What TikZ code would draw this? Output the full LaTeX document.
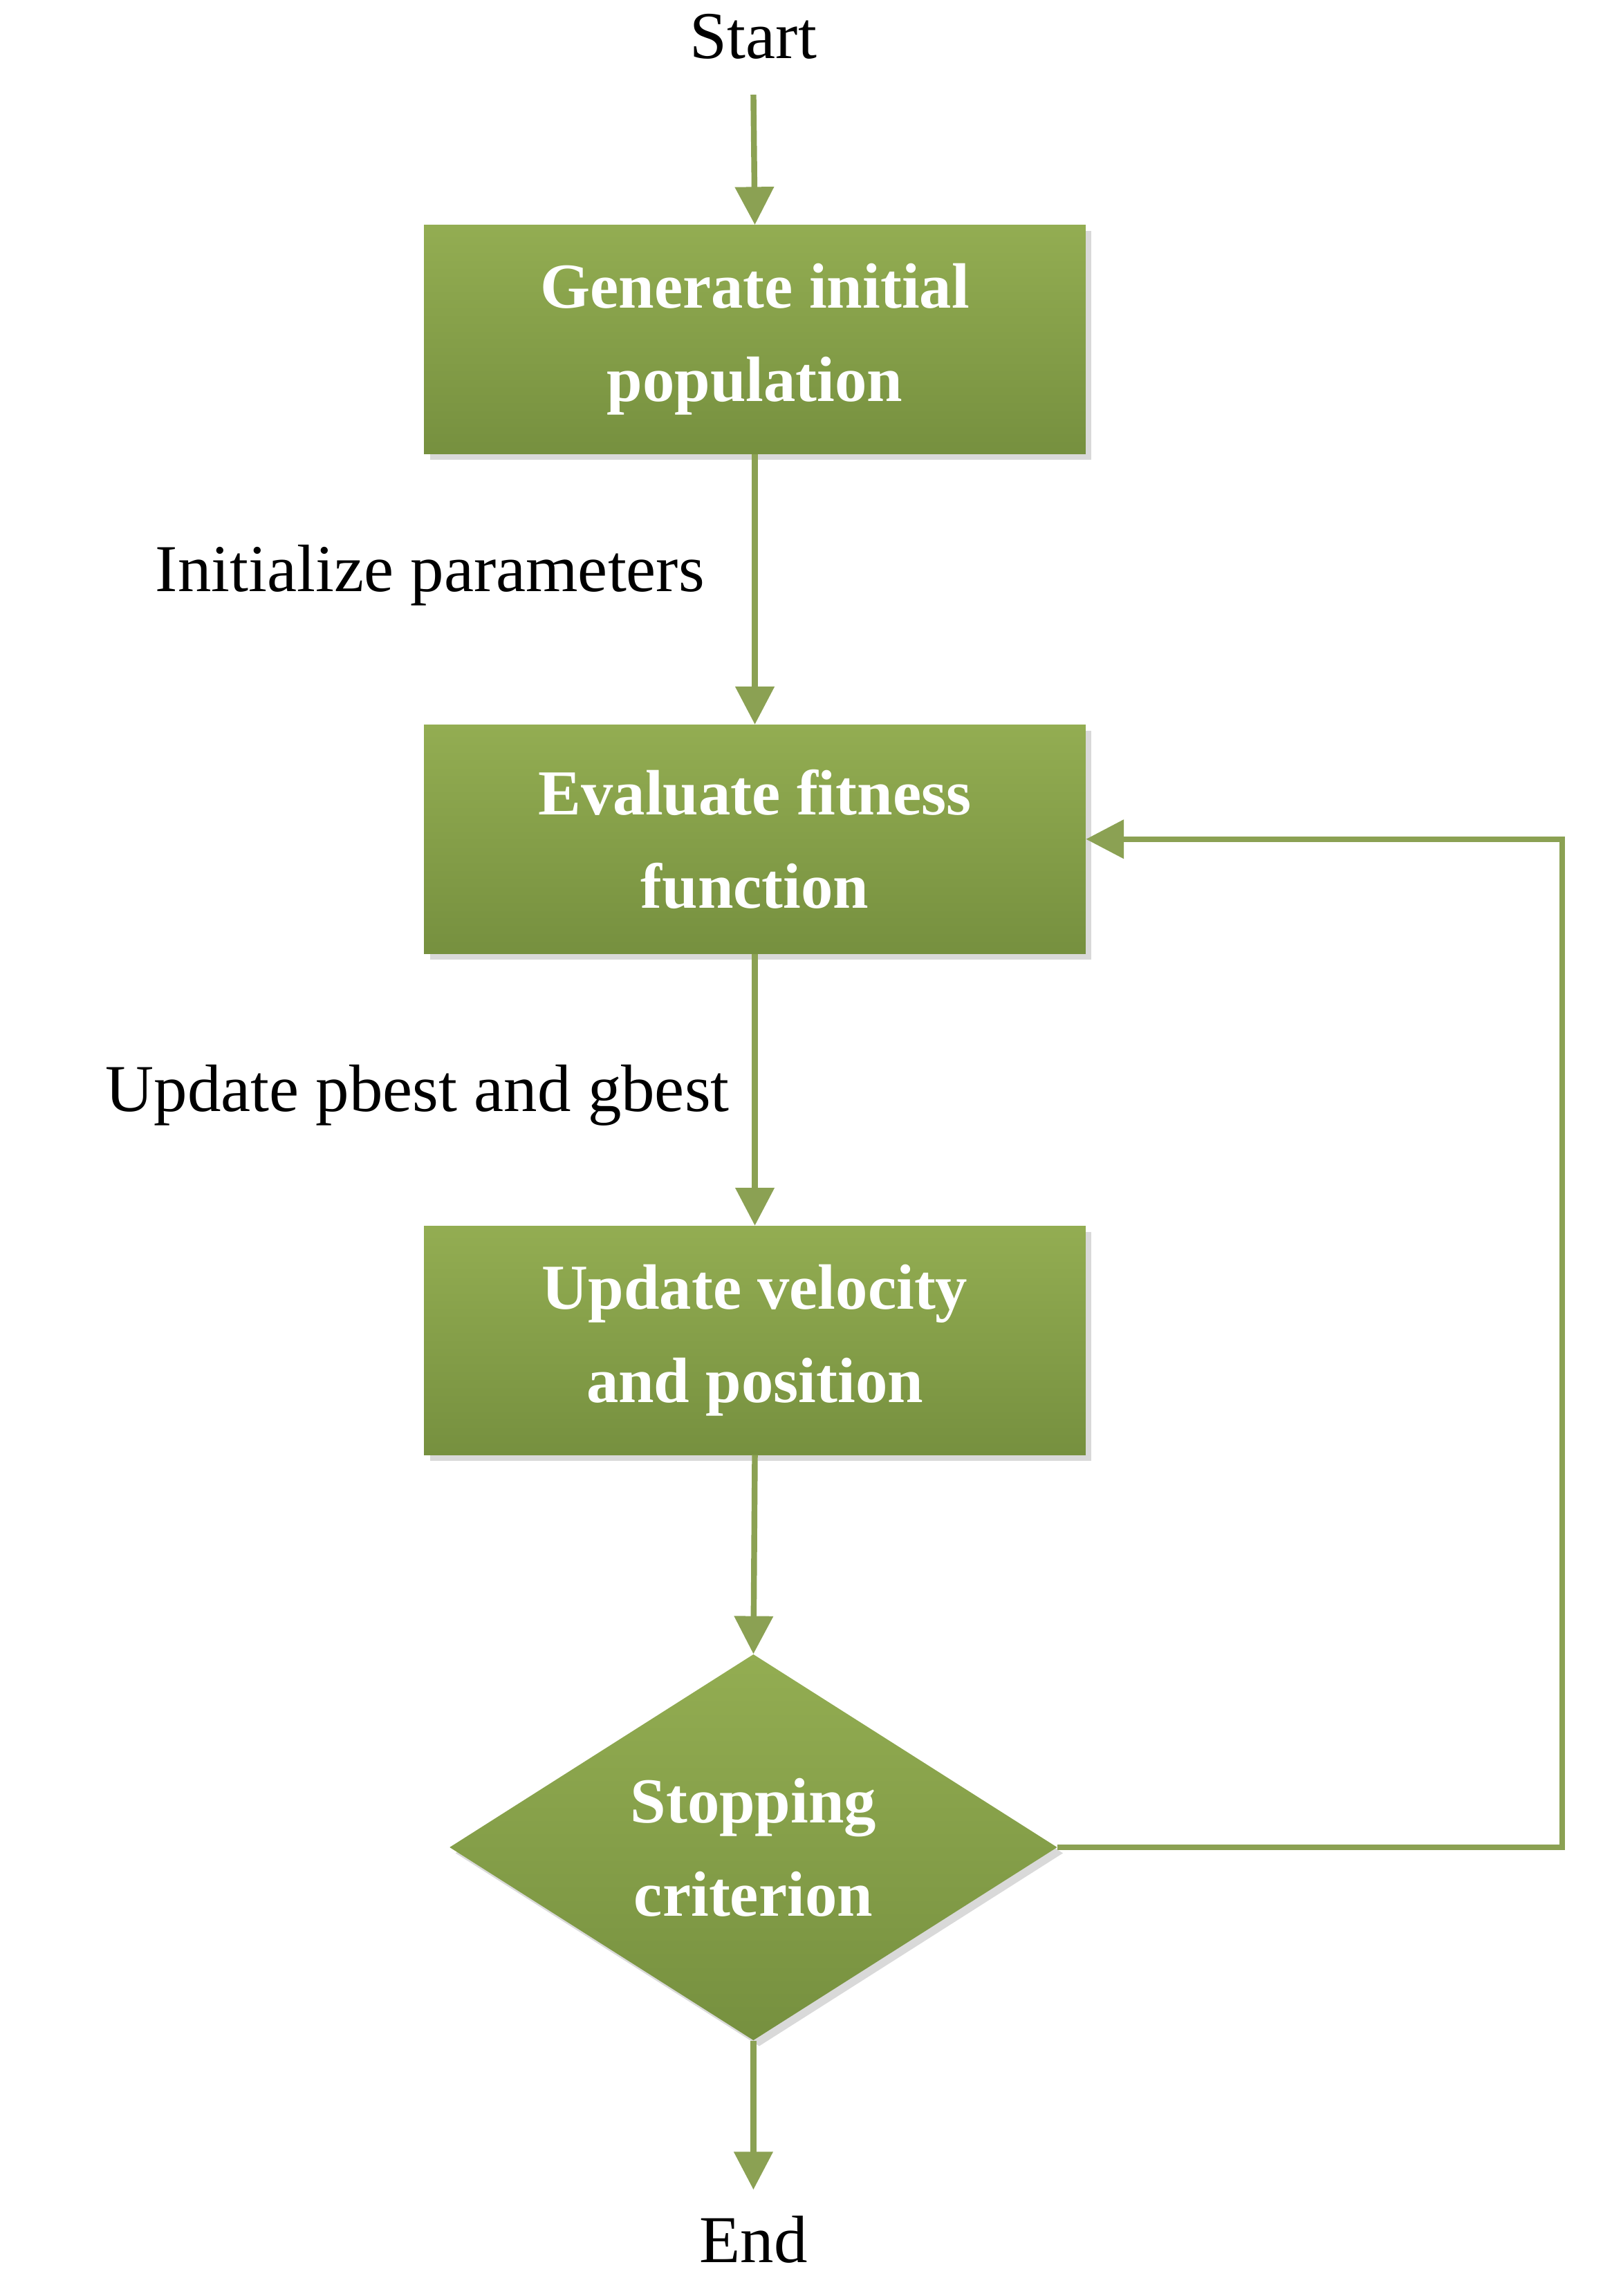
\documentclass[tikz,border=0pt]{standalone}
\usepackage{fontspec}
\setmainfont{Liberation Serif}
\usetikzlibrary{shapes.geometric,arrows.meta,shadows}
\definecolor{ln}{HTML}{8BA153}
\definecolor{gtop}{HTML}{93AD52}
\definecolor{gbot}{HTML}{76903F}
\begin{document}
\begin{tikzpicture}[x=1pt,y=-1pt,
  box/.style={rectangle,minimum width=454pt,minimum height=157pt,top color=gtop,bottom color=gbot,draw=none,
    drop shadow={shadow xshift=4pt,shadow yshift=-4pt,fill=black!25,opacity=0.6},
    text=white,font=\fontsize{44}{64}\selectfont\bfseries,align=center},
  dia/.style={diamond,minimum width=417pt,minimum height=265pt,top color=gtop,bottom color=gbot,draw=none,
    drop shadow={shadow xshift=4pt,shadow yshift=-4pt,fill=black!25,opacity=0.6},
    text=white,font=\fontsize{44}{64}\selectfont\bfseries,align=center,inner sep=0pt},
  lab/.style={font=\fontsize{46}{52}\selectfont,text=black},
  arr/.style={draw=ln,line width=4pt,-{Triangle[length=26pt,width=26pt]}}]
\useasboundingbox (0,0) rectangle (1100,1576);
\node[lab] (start) at (517,25) {Start};
\node[box] (b1) at (518,233) {Generate initial\\population};
\node[box] (b2) at (518,576) {Evaluate fitness\\function};
\node[box] (b3) at (518,920) {Update velocity\\and position};
\node[dia] (d) at (517,1268) {Stopping\\criterion};
\node[lab] (end) at (517,1537) {End};
\node[lab,anchor=east] (l1) at (487,395) {Initialize parameters};
\node[lab,anchor=east] (l2) at (504,752) {Update pbest and gbest};
\coordinate (r1) at (1072,1268);
\coordinate (r2) at (1072,576);
\draw[arr] (517,65) -- (b1.north);
\draw[arr] (b1.south) -- (b2.north);
\draw[arr] (b2.south) -- (b3.north);
\draw[arr] (b3.south) -- (d.north);
\draw[arr] (d.south) -- (517,1503);
\draw[arr] (d.east) -- (r1) -- (r2) -- (b2.east);
\end{tikzpicture}
\end{document}
